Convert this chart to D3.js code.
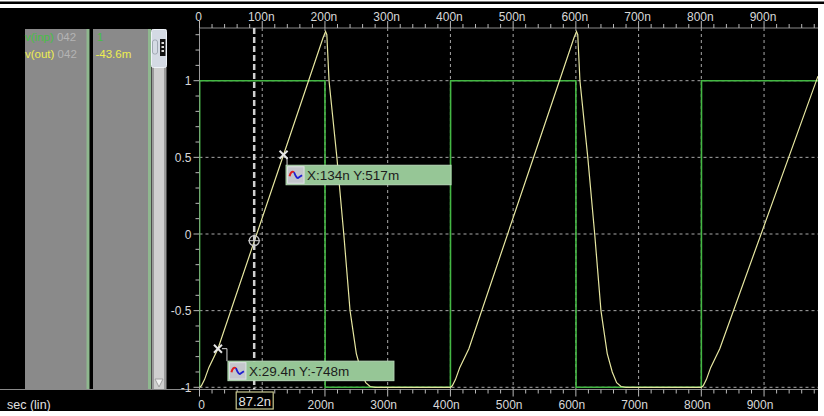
<!DOCTYPE html>
<html><head><meta charset="utf-8">
<script src="https://cdn.jsdelivr.net/npm/d3@7"></script>
<style>
body{margin:0;background:#fff;}
svg{display:block;font-family:"Liberation Sans",Arial,sans-serif;}
</style></head><body>
<svg id="chart" width="824" height="416"></svg>
<script>
// axis ticks (time in ns, volts)
const xTicks = [0,100,200,300,400,500,600,700,800,900];
const xTickLabels = ["0","100n","200n","300n","400n","500n","600n","700n","800n","900n"];
const yTicks = [1,0.5,0,-0.5,-1];
const yTickLabels = ["1","0.5","0","-0.5","-1"];

// v(inp): square wave
const inpTime = [0,0.3,200,200.3,400,400.3,600,600.3,800,800.3,986];
const inpVal  = [-1,1,1,-1,-1,1,1,-1,-1,1,1];

// v(out): triangle-ish response
const outTime = [0,3,8,15,29.4,134,197,201,203,206.5,219,230,240,250,258,265,272,280,
                 400,403,408,415,429.4,534,597,601,603,606.5,619,630,640,650,658,665,672,680,
                 800,803,808,815,829.4,986];
const outVal  = [-1,-0.99,-0.95,-0.87,-0.748,0.517,1.28,1.32,1.3,1.0,0.5,0,-0.5,-0.78,-0.9,-0.97,-0.995,-1,
                 -1,-0.99,-0.95,-0.87,-0.748,0.517,1.28,1.32,1.3,1.0,0.5,0,-0.5,-0.78,-0.9,-0.97,-0.995,-1,
                 -1,-0.99,-0.95,-0.87,-0.748,1.03];

const cursorTime = 87.2, cursorVal = -0.0436, cursorLabel = "87.2n";
const markerTime = [29.4, 134];
const markerVal = [-0.748, 0.517];
const markerLabels = ["X:29.4n Y:-748m", "X:134n Y:517m"];
const traceNames = ["v(inp)", "v(out)"];
const traceIds = ["042", "042"];
const traceValues = ["1", "-43.6m"];
const traceColors = ["#46c046", "#eeee50"];

const svg = d3.select("#chart");
const plot = {left:199.5, right:818, top:28, bottom:389.5};
const x = d3.scaleLinear().domain([0,986]).range([plot.left, plot.right]);
const y = d3.scaleLinear().domain([-1,1]).range([387.3, 80.7]);

// frame
svg.append("rect").attr("x",0).attr("y",0).attr("width",824).attr("height",416).attr("fill","#fff");
svg.append("rect").attr("x",0).attr("y",1.5).attr("width",824).attr("height",2.5).attr("fill","#000");
svg.append("rect").attr("x",0).attr("y",8).attr("width",818).attr("height",403).attr("fill","#000");

// left signal panel
svg.append("rect").attr("x",25).attr("y",29).attr("width",62).attr("height",360).attr("fill","#8a8a8a");
svg.append("rect").attr("x",86.5).attr("y",29).attr("width",3).attr("height",360).attr("fill","#8fb88f");
svg.append("rect").attr("x",93).attr("y",29).attr("width",55).attr("height",360).attr("fill","#8a8a8a");
svg.append("rect").attr("x",148).attr("y",29).attr("width",3).attr("height",360).attr("fill","#8fb88f");
// scrollbar
svg.append("rect").attr("x",151.5).attr("y",29).attr("width",15).attr("height",360).attr("fill","#9a9a9a");
svg.append("rect").attr("x",154).attr("y",29).attr("width",10).attr("height",360).attr("fill","#cfcfcf");
svg.append("rect").attr("x",151.5).attr("y",29.5).attr("width",15).attr("height",38).attr("rx",2)
  .attr("fill","#d4dae4").attr("stroke","#eef2f8");
svg.append("rect").attr("x",152.5).attr("y",40).attr("width",5).attr("height",14).attr("rx",2)
  .attr("fill","none").attr("stroke","#a0a8b4");
svg.append("rect").attr("x",160).attr("y",39).attr("width",5.5).attr("height",17).attr("fill","#111");
[42,46,50].forEach(v=>svg.append("rect").attr("x",161.5).attr("y",v).attr("width",2.5).attr("height",2).attr("fill","#ddd"));
svg.append("path").attr("d","M155,379 L163,379 L159,387 Z").attr("fill","#f2f2f2").attr("stroke","#a0a0a0");

traceNames.forEach((n,i)=>{
  const t = svg.append("text").attr("x",25).attr("y",41+i*16.5).attr("font-size",11.5);
  t.append("tspan").attr("fill",traceColors[i]).text(n);
  t.append("tspan").attr("fill","#b4b4b4").text(" "+traceIds[i]);
  svg.append("text").attr("x",i===0?97:95.5).attr("y",41+i*16.5).attr("font-size",11.5)
    .attr("fill",traceColors[i]).text(traceValues[i]);
});

// grid
const grid = svg.append("g").attr("stroke","#a8a8a8").attr("stroke-width",1).attr("stroke-dasharray","3,3");
xTicks.filter(d=>d>0).forEach(d=>grid.append("line").attr("x1",x(d)).attr("x2",x(d)).attr("y1",plot.top).attr("y2",plot.bottom));
yTicks.forEach(d=>grid.append("line").attr("x1",plot.left).attr("x2",plot.right).attr("y1",y(d)).attr("y2",y(d)));

// axes
const minorX = d3.range(0,986,20);
const axisCol = "#b8b8b8";
svg.append("line").attr("x1",plot.left).attr("x2",plot.right).attr("y1",plot.top).attr("y2",plot.top).attr("stroke","#8a8a8a");
svg.append("line").attr("x1",0).attr("x2",plot.right).attr("y1",plot.bottom).attr("y2",plot.bottom).attr("stroke","#8a8a8a");
svg.append("line").attr("x1",plot.left).attr("x2",plot.left).attr("y1",plot.top).attr("y2",plot.bottom).attr("stroke","#9a9a9a");
minorX.forEach(d=>{
  const major = d%100===0;
  svg.append("line").attr("x1",x(d)).attr("x2",x(d)).attr("y1",plot.top).attr("y2",plot.top-(major?7:4)).attr("stroke",axisCol);
  svg.append("line").attr("x1",x(d)).attr("x2",x(d)).attr("y1",plot.bottom).attr("y2",plot.bottom+(major?7:4)).attr("stroke",axisCol);
});
const cx = x(cursorTime), cy = y(cursorVal);
xTicks.forEach((d,i)=>{
  svg.append("text").attr("x",x(d)-1).attr("y",21).attr("text-anchor","middle").attr("font-size",12)
    .attr("fill","#d8d8d8").text(xTickLabels[i]);
  // bottom label hidden where the cursor readout box sits
  if (Math.abs(x(d)-cx) < 30 && d>0) return;
  svg.append("text").attr("x",x(d)-(i===0?-2:4)).attr("y",408.5).attr("text-anchor","middle").attr("font-size",12)
    .attr("fill","#d8d8d8").text(xTickLabels[i]);
});
d3.range(-1,1.35,0.1).forEach(v=>{
  const major = Math.abs(v*2-Math.round(v*2))<1e-6;
  svg.append("line").attr("x1",plot.left).attr("x2",plot.left-(major?6:4)).attr("y1",y(v)).attr("y2",y(v)).attr("stroke",axisCol);
});
yTicks.forEach((d,i)=>svg.append("text").attr("x",191.5).attr("y",y(d)+4.5).attr("text-anchor","end")
  .attr("font-size",12).attr("fill","#d8d8d8").text(yTickLabels[i]));

svg.append("text").attr("x",7).attr("y",408.5).attr("font-size",12.5).attr("fill","#e0e0e0").text("sec (lin)");

// traces
svg.append("clipPath").attr("id","clip").append("rect")
  .attr("x",plot.left).attr("y",plot.top).attr("width",plot.right-plot.left).attr("height",plot.bottom-plot.top);
const line = d3.line().x(d=>x(d[0])).y(d=>y(d[1]));
const traces = svg.append("g").attr("clip-path","url(#clip)").attr("fill","none");
traces.append("path").datum(inpTime.map((t,i)=>[t,inpVal[i]])).attr("d",line)
  .attr("stroke","#44b844").attr("stroke-width",1.6);
traces.append("path").datum(outTime.map((t,i)=>[t,outVal[i]])).attr("d",line)
  .attr("stroke","#e6e6a0").attr("stroke-width",1.2);

// cursor
svg.append("line").attr("x1",cx).attr("x2",cx).attr("y1",plot.top).attr("y2",plot.bottom)
  .attr("stroke","#d0d0d0").attr("stroke-width",2.5).attr("stroke-dasharray","6,3");
svg.append("circle").attr("cx",cx).attr("cy",cy).attr("r",5).attr("fill","none").attr("stroke","#c8c8c8").attr("stroke-width",1.3);
svg.append("line").attr("x1",cx-6).attr("x2",cx+6).attr("y1",cy).attr("y2",cy).attr("stroke","#c8c8c8");
svg.append("line").attr("x1",cx).attr("x2",cx).attr("y1",cy-6).attr("y2",cy+6).attr("stroke","#c8c8c8");
svg.append("rect").attr("x",cx-18).attr("y",392).attr("width",37).attr("height",17)
  .attr("fill","#000").attr("stroke","#c8c890").attr("stroke-width",1.2);
svg.append("text").attr("x",cx+0.5).attr("y",405.5).attr("text-anchor","middle").attr("font-size",13)
  .attr("fill","#e4e4e4").text(cursorLabel);

// markers
const boxOff = [[10,12.5,166],[2.5,10.5,165]];
markerTime.forEach((t,i)=>{
  const mx = x(t), my = y(markerVal[i]);
  const [dx,dy,w] = boxOff[i];
  const bx = mx+dx, by = my+dy;
  if (i===0) svg.append("path").attr("d",`M${mx+4},${my} L${bx-1},${my} L${bx-1},${by}`).attr("fill","none").attr("stroke","#d8d8d8");
  else svg.append("path").attr("d",`M${mx+4},${my+3} L${bx+1},${my+3} L${bx+1},${by}`).attr("fill","none").attr("stroke","#d8d8d8");
  const m = svg.append("g").attr("stroke","#e8e8e8").attr("stroke-width",2);
  m.append("line").attr("x1",mx-4).attr("x2",mx+4).attr("y1",my-4).attr("y2",my+4);
  m.append("line").attr("x1",mx-4).attr("x2",mx+4).attr("y1",my+4).attr("y2",my-4);
  svg.append("rect").attr("x",bx).attr("y",by).attr("width",w).attr("height",19.5)
    .attr("fill","#96c696").attr("stroke","#b8dab8").attr("stroke-width",1);
  svg.append("rect").attr("x",bx+1.5).attr("y",by+1.5).attr("width",16.5).attr("height",16.5)
    .attr("fill","#c4c6cc").attr("stroke","#e0e2e6");
  svg.append("path").attr("d",`M${bx+3.5},${by+11} Q${bx+5},${by+5} ${bx+8},${by+7}`)
    .attr("fill","none").attr("stroke","#e02020").attr("stroke-width",2);
  svg.append("path").attr("d",`M${bx+8},${by+7} Q${bx+11},${by+15} ${bx+13},${by+12} L${bx+16},${by+10}`)
    .attr("fill","none").attr("stroke","#2020d0").attr("stroke-width",1.8);
  svg.append("text").attr("x",bx+21).attr("y",by+15).attr("font-size",13.5).attr("fill","#1c1c1c").text(markerLabels[i]);
});
</script>
</body></html>
